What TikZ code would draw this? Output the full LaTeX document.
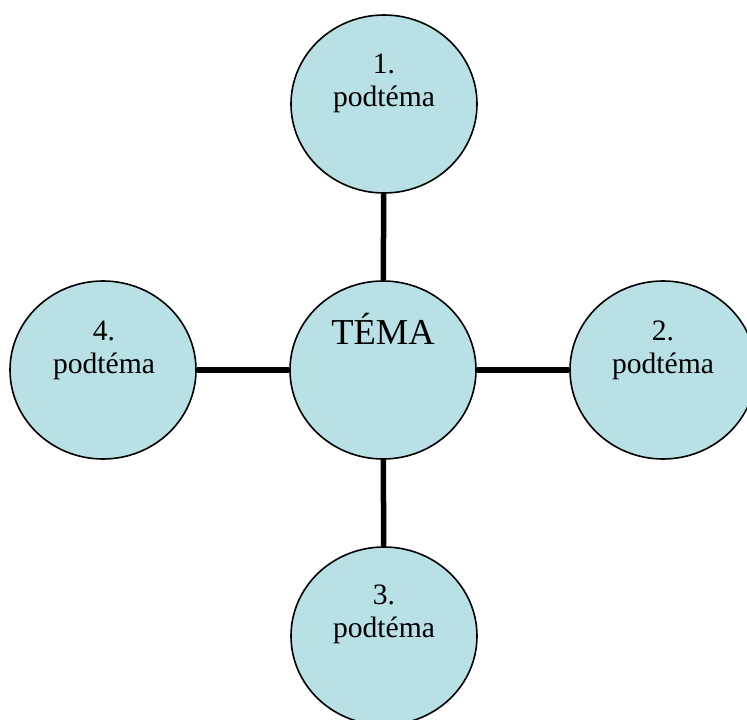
\documentclass[tikz,border=0pt]{standalone}
\usepackage{fontspec}
\setmainfont{Liberation Serif}
\usetikzlibrary{shapes.geometric}
\definecolor{bubble}{RGB}{185,224,228}
\tikzset{
  bubble/.style={ellipse, draw=black, line width=1.6pt, fill=bubble,
    minimum width=186pt, minimum height=178pt, inner sep=0pt},
  txt/.style={anchor=base, inner sep=0pt, font=\fontsize{29.6}{33}\selectfont},
  bigtxt/.style={anchor=base, inner sep=0pt, font=\fontsize{36.5}{40}\selectfont},
  link/.style={line width=5.5pt, black}
}
\begin{document}
\begin{tikzpicture}[x=1pt,y=-1pt]
\useasboundingbox (0,0) rectangle (747,720);
\node[bubble] (c) at (383,370) {};
\node[bubble] (t) at (384,104) {};
\node[bubble] (l) at (103,370) {};
\node[bubble] (r) at (663,370) {};
\node[bubble] (b) at (384,636) {};
\draw[link] (t) -- (c);
\draw[link] (c) -- (b);
\draw[link] (l) -- (c);
\draw[link] (c) -- (r);
\node[bigtxt] (ct) at (383,344) {TÉMA};
\node[txt] (t1) at (384,73) {1.};
\node[txt] (t2) at (384,106) {podtéma};
\node[txt] (r1) at (663,340) {2.};
\node[txt] (r2) at (663,373) {podtéma};
\node[txt] (b1) at (384,604) {3.};
\node[txt] (b2) at (384,637) {podtéma};
\node[txt] (l1) at (104,340) {4.};
\node[txt] (l2) at (104,373) {podtéma};
\end{tikzpicture}
\end{document}
